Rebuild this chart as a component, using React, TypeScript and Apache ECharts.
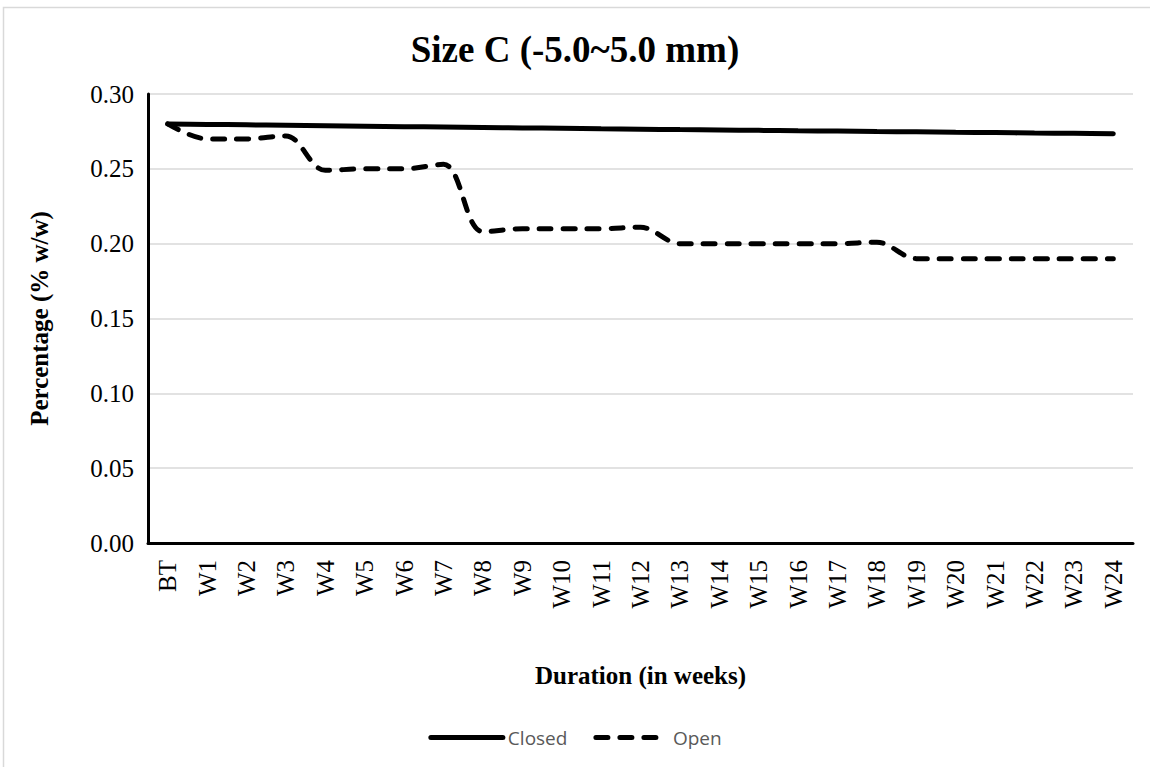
import React, { useEffect, useRef } from "react";
import * as echarts from "echarts";

const categories = ["BT", "W1", "W2", "W3", "W4", "W5", "W6", "W7", "W8", "W9", "W10", "W11", "W12", "W13", "W14", "W15", "W16", "W17", "W18", "W19", "W20", "W21", "W22", "W23", "W24"];
const closedValues = [0.280, 0.2797, 0.2794, 0.2791, 0.2788, 0.2785, 0.2782, 0.2779, 0.2776, 0.2773, 0.2771, 0.2768, 0.2765, 0.2762, 0.276, 0.2757, 0.2754, 0.2752, 0.2749, 0.2747, 0.2744, 0.2742, 0.2739, 0.2737, 0.2735];
const openValues = [0.280, 0.270, 0.270, 0.272, 0.249, 0.250, 0.250, 0.253, 0.208, 0.210, 0.210, 0.210, 0.211, 0.200, 0.200, 0.200, 0.200, 0.200, 0.201, 0.190, 0.190, 0.190, 0.190, 0.190, 0.190];
const yTicks = { min: 0, max: 0.3, interval: 0.05 };

export default function App() {
  const ref = useRef<HTMLDivElement>(null);
  useEffect(() => {
    if (!ref.current) return;
    const chart = echarts.init(ref.current, null, { renderer: "svg" });
    const serif = "'Liberation Serif', 'Times New Roman', serif";
    chart.setOption({
      animation: false,
      backgroundColor: "#ffffff",
      graphic: [
        {
          type: "rect",
          shape: { x: 3.5, y: 7.5, width: 1200, height: 800 },
          style: { fill: "none", stroke: "#d9d9d9", lineWidth: 1.5 },
          silent: true,
        },
      ],
      title: {
        text: "Size C (-5.0~5.0 mm)",
        left: "center",
        top: 26,
        textStyle: { fontFamily: serif, fontSize: 37, fontWeight: "bold", color: "#000" },
      },
      legend: {
        bottom: 15,
        left: "center",
        itemWidth: 72,
        itemHeight: 10,
        itemGap: 26,
        itemStyle: { opacity: 0 },
        lineStyle: { width: 5 },
        textStyle: { fontFamily: "'Open Sans', 'Noto Sans', sans-serif", fontSize: 19, color: "#595959" },
        data: ["Closed", "Open"],
      },
      grid: { left: 148, right: 17, top: 94, bottom: 224, containLabel: false },
      xAxis: {
        type: "category",
        data: categories,
        boundaryGap: true,
        name: "Duration (in weeks)",
        nameLocation: "middle",
        nameGap: 120,
        nameTextStyle: { fontFamily: serif, fontSize: 25, fontWeight: "bold", color: "#000" },
        axisLine: { lineStyle: { color: "#000", width: 3 } },
        axisTick: { show: false },
        axisLabel: { rotate: 90, fontFamily: serif, fontSize: 25, color: "#000", margin: 17, interval: 0 },
      },
      yAxis: {
        type: "value",
        min: yTicks.min,
        max: yTicks.max,
        interval: yTicks.interval,
        name: "Percentage (% w/w)",
        nameLocation: "middle",
        nameGap: 96,
        nameTextStyle: { fontFamily: serif, fontSize: 25, fontWeight: "bold", color: "#000" },
        axisLine: { show: true, lineStyle: { color: "#000", width: 3 } },
        axisTick: { show: false },
        axisLabel: {
          fontFamily: serif,
          fontSize: 25,
          color: "#000",
          margin: 14,
          formatter: (v: number) => v.toFixed(2),
        },
        splitLine: { lineStyle: { color: "#d9d9d9", width: 1.5 } },
      },
      series: [
        {
          name: "Closed",
          type: "line",
          data: closedValues,
          symbol: "none",
          smooth: 0.3,
          itemStyle: { color: "#000" },
          lineStyle: { color: "#000", width: 5, cap: "round" },
        },
        {
          name: "Open",
          type: "line",
          data: openValues,
          symbol: "none",
          smooth: 0.35,
          itemStyle: { color: "#000" },
          lineStyle: { color: "#000", width: 5, type: [12, 12], cap: "round" },
        },
      ],
    });
    return () => chart.dispose();
  }, []);
  return (
    <div
      ref={ref}
      style={{ position: "fixed", left: 0, top: 0, width: 1150, height: 767, background: "#fff" }}
    />
  );
}
